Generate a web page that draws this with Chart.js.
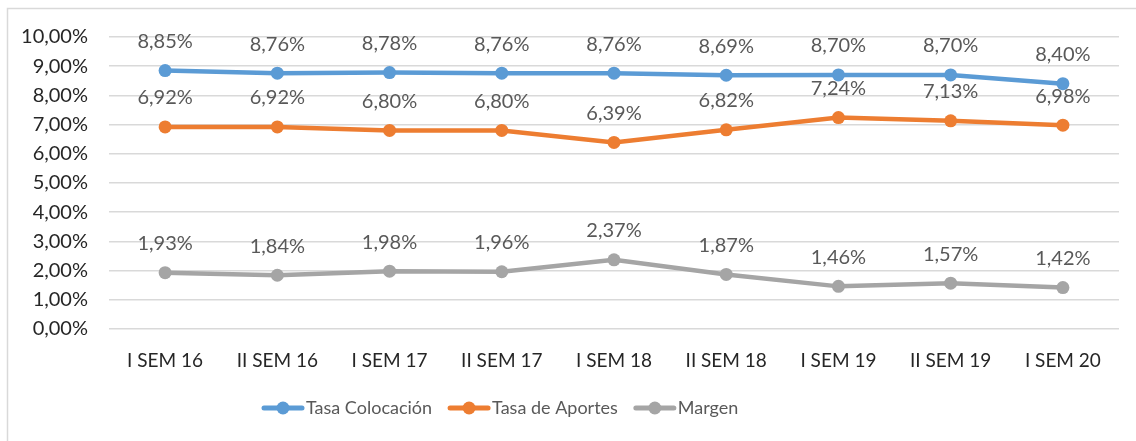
<!DOCTYPE html>
<html>
<head>
<meta charset="utf-8">
<script src="https://cdn.jsdelivr.net/npm/chart.js@4/dist/chart.umd.min.js"></script>
<style>
  html, body { margin: 0; padding: 0; background: #fff; }
  #wrap { width: 1136px; height: 441px; position: relative; }
</style>
</head>
<body>
<div id="wrap"><canvas id="chart" width="1136" height="441"></canvas></div>
<script>
// Data
const categories = ['I SEM 16', 'II SEM 16', 'I SEM 17', 'II SEM 17', 'I SEM 18', 'II SEM 18', 'I SEM 19', 'II SEM 19', 'I SEM 20'];
const tasaColocacion = [8.85, 8.76, 8.78, 8.76, 8.76, 8.69, 8.70, 8.70, 8.40];
const tasaAportes = [6.92, 6.92, 6.80, 6.80, 6.39, 6.82, 7.24, 7.13, 6.98];
const margen = [1.93, 1.84, 1.98, 1.96, 2.37, 1.87, 1.46, 1.57, 1.42];

const FONT = 'Lato, "Open Sans", sans-serif';

function pct(v) {
    return v.toFixed(2).replace('.', ',') + '%';
}

function makeSeries(label, data, color) {
    return {
        label: label,
        data: data,
        borderColor: color,
        backgroundColor: color,
        borderWidth: 4.5,
        pointRadius: 6.5,
        pointHoverRadius: 6.5,
        pointBorderWidth: 0,
        tension: 0
    };
}

// Frame (only top and left edges show), value labels, and the legend row
const extras = {
    id: 'extras',
    beforeDraw(chart) {
        const ctx = chart.ctx;
        ctx.save();
        ctx.strokeStyle = '#d9d9d9';
        ctx.lineWidth = 1.5;
        ctx.beginPath();
        ctx.moveTo(7.5, chart.height + 5);
        ctx.lineTo(7.5, 8.5);
        ctx.lineTo(chart.width + 5, 8.5);
        ctx.stroke();
        ctx.restore();
    },
    afterDatasetsDraw(chart) {
        const ctx = chart.ctx;
        ctx.save();
        ctx.font = '20px ' + FONT;
        ctx.fillStyle = '#595959';
        ctx.textAlign = 'center';
        ctx.textBaseline = 'middle';
        chart.data.datasets.forEach((ds, i) => {
            chart.getDatasetMeta(i).data.forEach((pt, j) => {
                ctx.fillText(pct(ds.data[j]), pt.x, pt.y - 29);
            });
        });
        ctx.restore();
    },
    afterDraw(chart) {
        // legend: line + dot marker, then the series name
        const ctx = chart.ctx;
        const y = 408;
        let x = 262;
        ctx.save();
        ctx.font = '18px ' + FONT;
        ctx.textBaseline = 'middle';
        ctx.textAlign = 'left';
        chart.data.datasets.forEach((ds) => {
            ctx.strokeStyle = ds.borderColor;
            ctx.fillStyle = ds.borderColor;
            ctx.lineWidth = 5;
            ctx.lineCap = 'round';
            ctx.beginPath();
            ctx.moveTo(x + 2, y);
            ctx.lineTo(x + 40, y);
            ctx.stroke();
            ctx.beginPath();
            ctx.arc(x + 21, y, 6.5, 0, Math.PI * 2);
            ctx.fill();
            ctx.fillStyle = '#595959';
            ctx.fillText(ds.label, x + 44, y);
            x += 44 + ctx.measureText(ds.label).width + 16;
        });
        ctx.restore();
    }
};

new Chart(document.getElementById('chart'), {
    type: 'line',
    data: {
        labels: categories,
        datasets: [
            makeSeries('Tasa Colocación', tasaColocacion, '#5B9BD5'),
            makeSeries('Tasa de Aportes', tasaAportes, '#ED7D31'),
            makeSeries('Margen', margen, '#A5A5A5')
        ]
    },
    options: {
        responsive: false,
        animation: false,
        layout: {
            padding: { top: 37, right: 17, bottom: 71, left: 0 }
        },
        plugins: {
            tooltip: { enabled: false },
            legend: { display: false }
        },
        scales: {
            x: {
                offset: true,
                grid: { display: false },
                border: { display: false },
                ticks: {
                    color: '#262626',
                    padding: 12,
                    maxRotation: 0,
                    font: { family: FONT, size: 19 }
                },
                afterFit(scale) {
                    scale.height = 41;
                }
            },
            y: {
                min: 0,
                max: 10,
                grid: {
                    color: '#d9d9d9',
                    lineWidth: 1.5,
                    drawTicks: false
                },
                border: { display: false },
                ticks: {
                    stepSize: 1,
                    padding: 21,
                    color: '#262626',
                    font: { family: FONT, size: 20 },
                    callback: (v) => pct(v)
                },
                afterFit(scale) {
                    scale.width = 109;
                }
            }
        }
    },
    plugins: [extras]
});
</script>
</body>
</html>
